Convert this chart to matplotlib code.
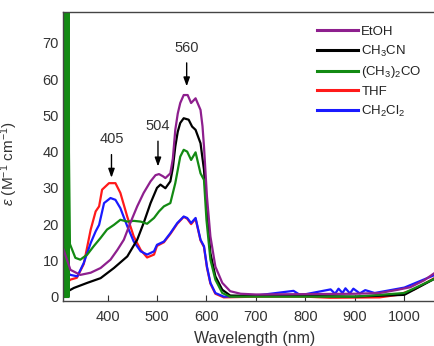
import matplotlib
matplotlib.use("Agg")
import matplotlib.pyplot as plt

plt.rcParams['font.family'] = ['Liberation Sans', 'DejaVu Sans']
plt.rcParams['mathtext.fontset'] = 'custom'
plt.rcParams['mathtext.rm'] = 'Liberation Sans'
plt.rcParams['mathtext.it'] = 'Liberation Sans:italic'
plt.rcParams['mathtext.default'] = 'regular'

# ---- data ----
etoh_wl = [311, 325, 345, 366, 386, 406, 420, 433, 446, 460, 473, 487, 497, 504, 512, 517,
           527, 532, 537, 542, 547, 554, 562, 569, 578, 588, 592, 595, 601, 608, 618, 632, 648, 669, 700,
           800, 900, 950, 987, 1012, 1040, 1062]
etoh_val = [13, 7.4, 6, 6.6, 7.9, 10.2, 12.9, 15.7, 20.3, 24.9, 28.6, 31.8, 33.5, 33.8, 33.2, 32.7,
            34, 38, 46, 50.5, 53.4, 55.6, 55.6, 53.4, 54.7, 51.5, 47, 41.4, 27.6, 16.6, 8.3, 3.8, 1.5, 0.8, 0.6,
            0.7, 0.8, 1.0, 1.9, 2.6, 4.5, 6.6]

ch3cn_wl = [311, 320, 332, 359, 386, 413, 440, 460, 473, 487, 500, 507, 517, 527, 532, 537, 542, 547,
            554, 564, 571, 578, 588, 595, 601, 608, 618, 632, 648, 700, 800, 900, 1000, 1062]
ch3cn_val = [0.5, 1.5, 2.4, 3.8, 5.1, 7.9, 11.1, 15.7, 20.3, 25.8, 30, 30.9, 29.9, 31.8, 35.5, 41.4, 45.5, 47.9,
             49.2, 48.8, 46.9, 46, 42.3, 35, 23, 12, 5.6, 1.9, 0.3, 0.2, 0.2, 0, 0.5, 5]

acetone_wl = [311, 311.5, 312, 312.5, 313, 313.5, 314, 314.5, 315, 315.5, 316, 316.5, 317, 317.5,
              318, 318.5, 319, 319.5, 320, 320.5, 321, 321.5, 322, 324, 335, 345, 359, 372, 386,
              399, 413, 426, 440, 453, 467, 480, 494, 504, 514, 527, 537, 547, 554, 561, 569, 578,
              588, 595, 600, 608, 618, 632, 648, 700, 800, 900, 1000, 1062]
acetone_val = [0, 95, 0, 95, 0, 95, 0, 95, 0, 95, 0, 95, 0, 95,
               0, 95, 0, 95, 0, 95, 0, 95, 40, 14.5, 10.7, 10.2, 11.6, 13.9, 16.2,
               18.5, 19.8, 21.2, 20.7, 20.9, 20.7, 20.1, 21.7, 23.5, 24.9, 25.8, 31.3, 38.6, 40.5, 40, 37.7, 39.8,
               34, 32.2, 21.2, 10.2, 4.7, 1, 0, 0, 0, 0, 1, 5]

thf_wl = [311, 325, 338, 352, 366, 376, 383, 389, 403, 416, 426, 440, 453, 467, 480, 494, 500,
          514, 527, 541, 554, 561, 569, 578, 588, 595, 601, 608, 618, 635, 700, 800, 850, 950,
          987, 1020, 1062]
thf_val = [3, 4.7, 5.2, 9, 18.5, 23.5, 24.9, 29.5, 31.3, 31.3, 28.6, 22, 16.6, 12.9, 10.8, 11.6, 14,
           15, 17.3, 20.1, 22, 21.5, 20, 21.5, 15.5, 13.7, 8, 3.6, 0.8, -0.2, 0, 0, -0.3, -0.2,
           0.5, 2, 5.2]

ch2cl2_wl = [311, 325, 339, 352, 366, 376, 383, 393, 406, 416, 426, 440, 453, 467, 480, 494, 500,
             514, 527, 541, 554, 561, 569, 578, 588, 595, 601, 608, 618, 635, 700, 776, 790, 851,
             860, 867, 875, 881, 890, 897, 910, 921, 940, 1000, 1062]
ch2cl2_val = [7.4, 6, 5.6, 9.3, 14.8, 18, 19.8, 25.8, 27.2, 26.7, 24.4, 19.4, 15.2, 12.5, 11.6, 12.5, 14.3,
              15.2, 17.5, 20.3, 22.1, 21.7, 20.3, 21.7, 15.7, 13.9, 8.3, 3.8, 1.0, 0, 0.3, 1.6, 0.4, 2,
              0.8, 2.2, 1.0, 2.3, 0.9, 2.2, 0.9, 1.8, 1.0, 2.5, 6]

labels = ['EtOH', 'CH$_3$CN', '(CH$_3$)$_2$CO', 'THF', 'CH$_2$Cl$_2$']
colors = ['#8e1f8e', '#000000', '#138a13', '#ff1a1a', '#1a1aff']

peak_labels = ['405', '504', '560']
peak_wl = [408, 502, 560]

x_ticks = [400, 500, 600, 700, 800, 900, 1000]
y_ticks = [0, 10, 20, 30, 40, 50, 60, 70]

# ---- figure ----
fig = plt.figure(figsize=(4.35, 3.46), dpi=100)
ax = fig.add_axes([63/435, 1 - 301/346, 372/435, 289/346])

lw = 1.6
h_thf, = ax.plot(thf_wl, thf_val, color=colors[3], lw=lw)
h_dcm, = ax.plot(ch2cl2_wl, ch2cl2_val, color=colors[4], lw=lw)
h_mecn, = ax.plot(ch3cn_wl, ch3cn_val, color=colors[1], lw=lw)
h_ace, = ax.plot(acetone_wl, acetone_val, color=colors[2], lw=lw)
h_etoh, = ax.plot(etoh_wl, etoh_val, color=colors[0], lw=lw)

ax.set_xlim(310, 1062)
ax.set_ylim(-1.2, 78.5)
ax.set_xticks(x_ticks)
ax.set_yticks(y_ticks)
ax.tick_params(direction='in', length=4, width=0.8, labelsize=10.5, colors='#333333')
ax.tick_params(axis='x', pad=6.5)
ax.tick_params(axis='y', pad=3)
ax.spines['right'].set_visible(False)
for s in ['top', 'left', 'bottom']:
    ax.spines[s].set_color('#444444')
    ax.spines[s].set_linewidth(1.0)

ax.set_xlabel('Wavelength (nm)', fontsize=11.5, color='#333333')
ax.xaxis.set_label_coords(0.516, -0.103)
ax.set_ylabel(r'$\it{\varepsilon}$ (M$^{-1}$ cm$^{-1}$)', fontsize=11, color='#333333')
ax.yaxis.set_label_coords(-0.115, 0.474)

# peak annotations
tops = [(43.4, 32.8), (47.1, 35.9), (68.7, 58.0)]
for lab, wl, (ty, tip) in zip(peak_labels, peak_wl, tops):
    ax.annotate(lab, xy=(wl, tip), xytext=(wl, ty), ha='center', va='center',
                fontsize=10.5, color='#333333',
                arrowprops=dict(arrowstyle='-|>,head_length=0.5,head_width=0.18',
                                color='black', lw=1.0, shrinkA=4, shrinkB=0))

leg = ax.legend([h_etoh, h_mecn, h_ace, h_thf, h_dcm], labels, loc='upper left',
                bbox_to_anchor=(0.683, 0.952), frameon=False, fontsize=9.5,
                handlelength=3.1, handletextpad=0.25, labelspacing=0.42, borderpad=0,
                borderaxespad=0)
for line in leg.get_lines():
    line.set_linewidth(2.2)
for t in leg.get_texts():
    t.set_color('#222222')

fig.savefig('out.png', dpi=100)
